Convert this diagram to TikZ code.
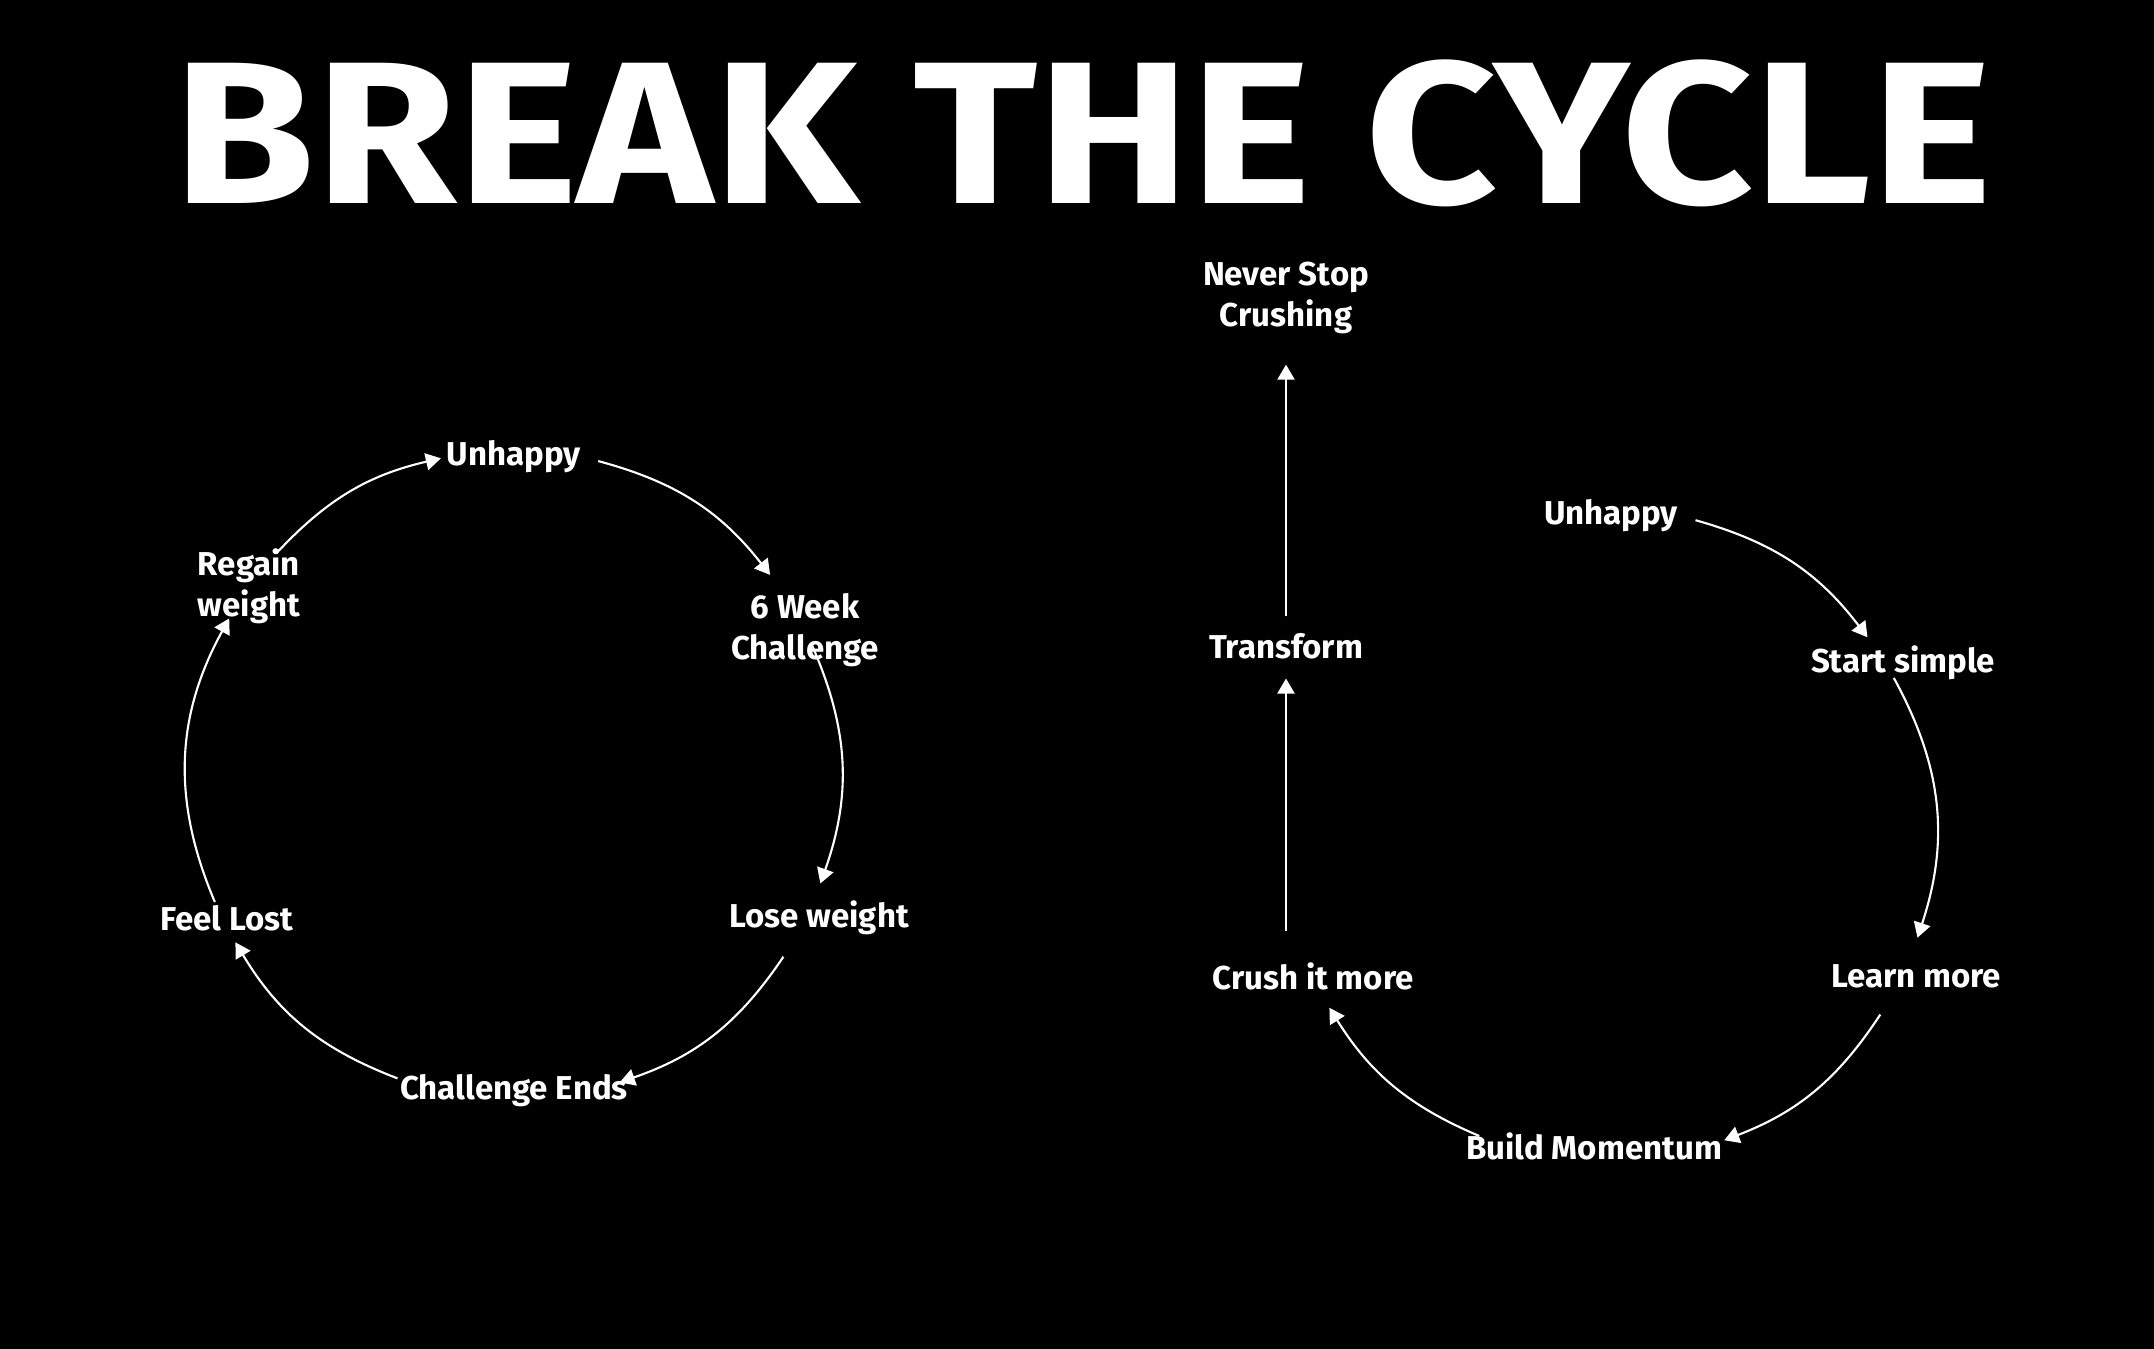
\documentclass[tikz,border=0pt]{standalone}
\usepackage{fontspec}
\setmainfont{Fira Sans}
\usepackage{tikz}
\usetikzlibrary{arrows.meta}
\usetikzlibrary{calc}
\usetikzlibrary{backgrounds}

\tikzset{
  lbl/.style={text=white, font=\bfseries\fontsize{9.4}{11.7}\selectfont, align=center, inner sep=0pt},
  flow/.style={white, line width=0.6pt, -{Triangle[length=1.5mm,width=1.7mm]}},
}

\begin{document}
\begin{tikzpicture}
\fill[black] (0,0) rectangle (21.54,13.49);
\useasboundingbox (0,0) rectangle (21.54,13.49);

\node[text=white, inner sep=0pt, xscale=1.135, transform shape, font=\bfseries\fontsize{57.6}{60}\selectfont] (title) at (10.83,12.16) {BREAK THE CYCLE};

%% old cycle
\coordinate (lc) at (5.14,5.74);
\node[lbl] (lunh)    at (5.14,8.92) {Unhappy};
\node[lbl] (lsix)    at (8.05,7.19) {6 Week\\Challenge};
\node[lbl] (llose)   at (8.19,4.31) {Lose weight};
\node[lbl] (lend)    at (5.14,2.58) {Challenge Ends};
\node[lbl] (llost)   at (2.27,4.31) {Feel Lost};
\node[lbl] (lregain) at (2.49,7.63) {Regain\\weight};
\foreach \i/\a/\b in {1/137/103, 2/75/38, 3/24/-19.5, 4/-34/-71, 5/-111/-149, 6/-157/-208.8}
{
  \coordinate (l\i-a) at ($(lc)+(\a:3.25)$);
  \coordinate (l\i-b) at ($(lc)+(\b:3.25)$);
  \pgfmathsetmacro\bnd{(\a-\b)/2}
  \draw[flow] (l\i-a) to[bend left=\bnd] (l\i-b);
}

%% new cycle
\coordinate (rc) at (16.07,5.14);
\node[lbl] (runh)   at (16.11,8.33) {Unhappy};
\node[lbl] (rstart) at (19.03,6.86) {Start simple};
\node[lbl] (rlearn) at (19.16,3.73) {Learn more};
\node[lbl] (rbuild) at (15.94,2.03) {Build Momentum};
\node[lbl] (rcrush) at (13.13,3.73) {Crush it more};
\node[lbl] (rtrans) at (12.86,7.03) {Transform};
\node[lbl] (rnever) at (12.86,10.51) {Never Stop\\Crushing};
\foreach \i/\a/\b in {1/74.3/37.2, 2/28.7/-18.3, 3/-33.3/-69, 4/-113/-148.1}
{
  \coordinate (r\i-a) at ($(rc)+(\a:3.27)$);
  \coordinate (r\i-b) at ($(rc)+(\b:3.27)$);
  \pgfmathsetmacro\bnd{(\a-\b)/2}
  \draw[flow] (r\i-a) to[bend left=\bnd] (r\i-b);
}
\draw[flow, shorten <=0.31cm, shorten >=0.19cm] (rtrans.south |- rcrush.north) -- (rtrans.south);
\draw[flow, shorten <=0.16cm, shorten >=0.30cm] (rtrans.north) -- (rnever.south);
\end{tikzpicture}
\end{document}
